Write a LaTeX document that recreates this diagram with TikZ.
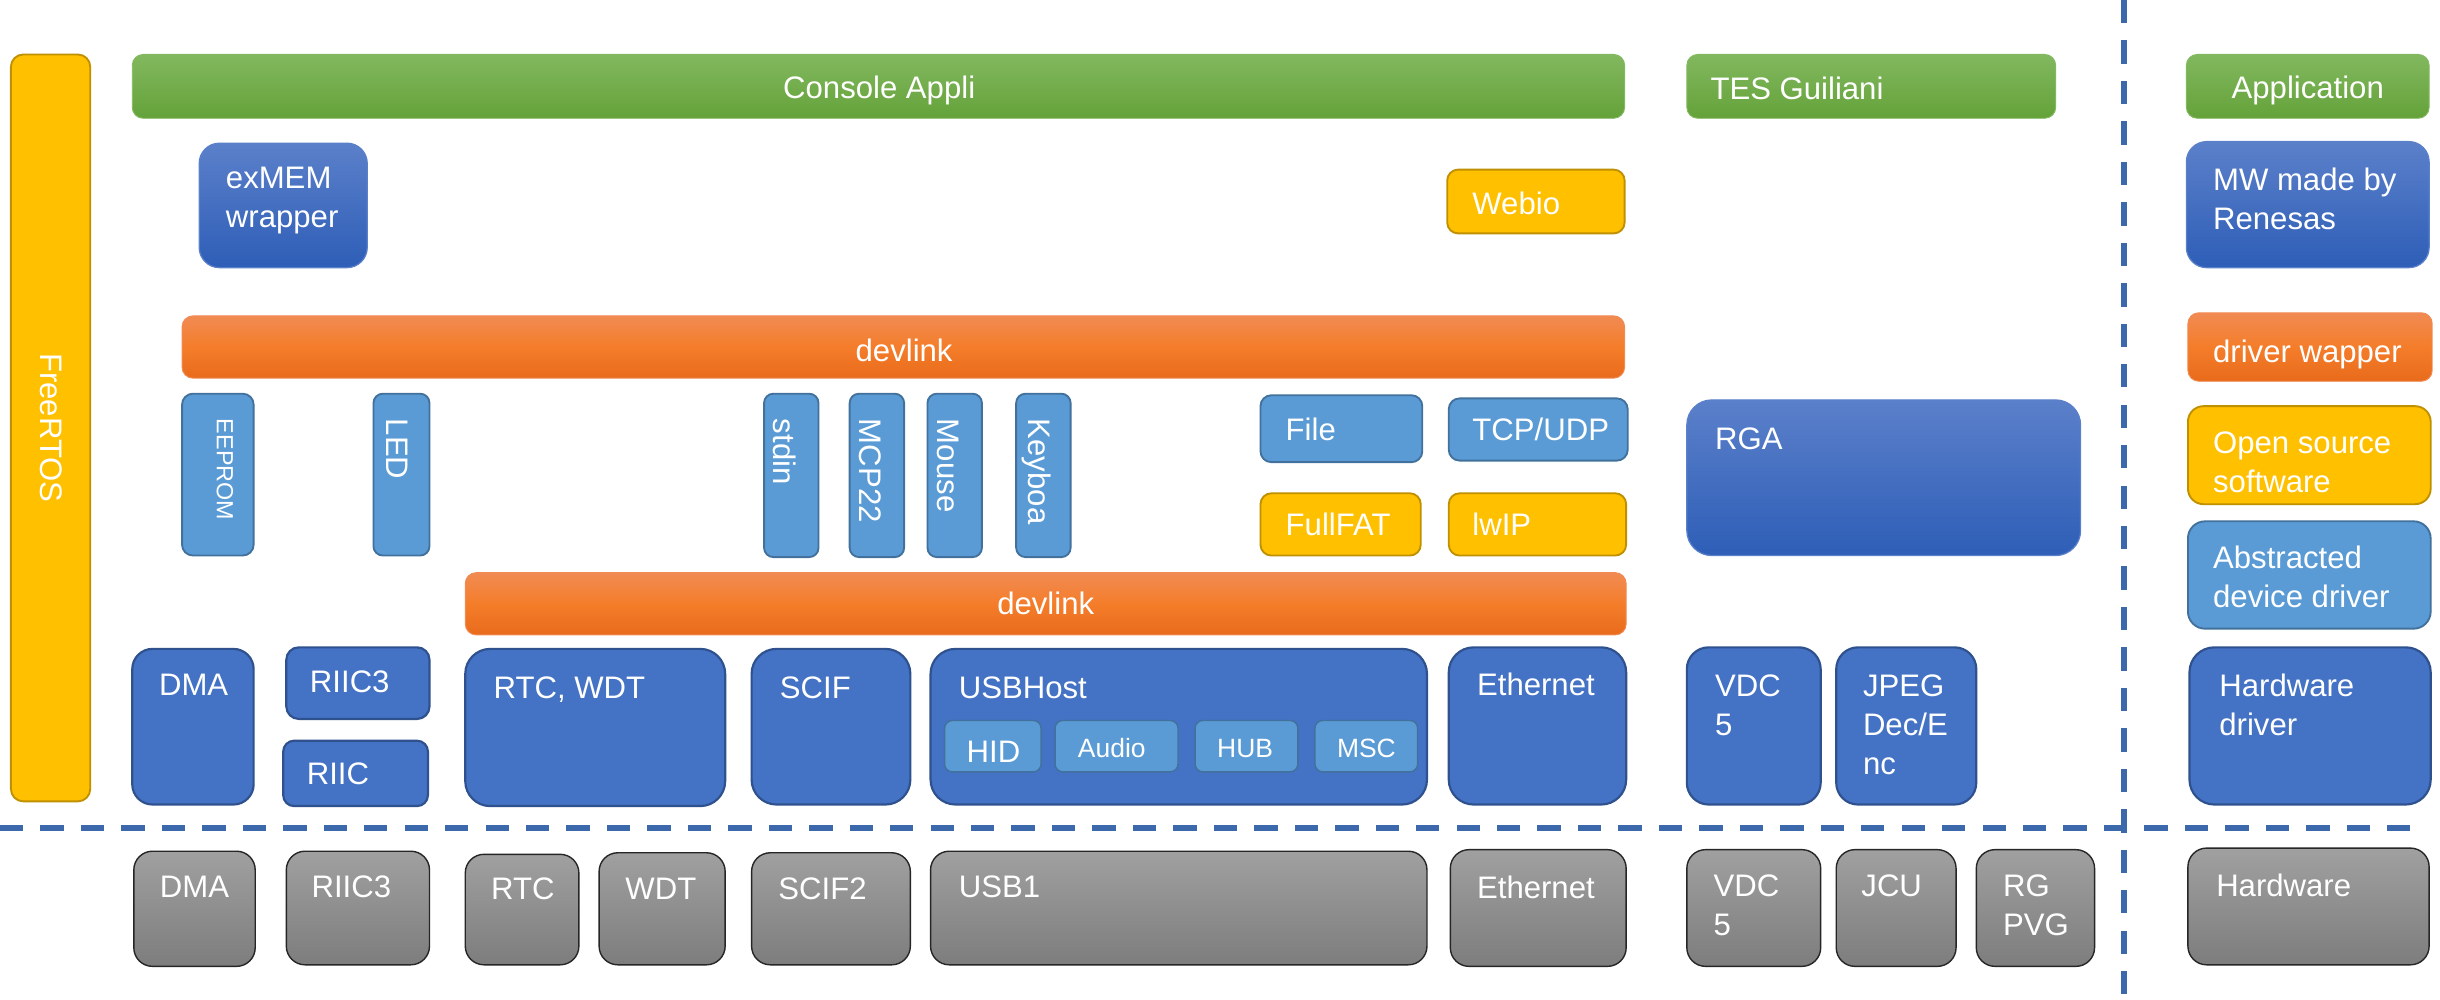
\documentclass[tikz,border=0pt]{standalone}
\usepackage{fontspec}
\setmainfont{Liberation Sans}
\usetikzlibrary{positioning}

\definecolor{grntop}{HTML}{82B85F}
\definecolor{grnbot}{HTML}{64A239}
\definecolor{orgtop}{HTML}{F18B53}
\definecolor{orgmid}{HTML}{F47D2A}
\definecolor{orgbot}{HTML}{E86B1B}
\definecolor{mwtop}{HTML}{5B80CA}
\definecolor{mwbot}{HTML}{2E5EB7}
\definecolor{drvblue}{HTML}{4472C4}
\definecolor{drvline}{HTML}{2F528F}
\definecolor{absblue}{HTML}{5B9BD5}
\definecolor{absline}{HTML}{41719C}
\definecolor{ossyel}{HTML}{FFC000}
\definecolor{ossline}{HTML}{BF9000}
\definecolor{hwtop}{HTML}{A0A0A0}
\definecolor{hwbot}{HTML}{7D7D7D}
\definecolor{sepblue}{HTML}{3C68AC}

\tikzset{
  blk/.style={rectangle, inner sep=0pt, outer sep=0pt, anchor=north west, line width=#1},
  blk/.default=1.2pt,
  wh/.style 2 args={minimum width=#1pt, minimum height=#2pt},
  app/.style={blk=0.6pt, draw=grntop, top color=grntop, bottom color=grnbot, rounded corners=7pt},
  wrap/.style={blk=0.6pt, draw=orgtop, top color=orgtop, bottom color=orgbot, middle color=orgmid, rounded corners=7pt},
  mw/.style={blk=0.8pt, draw=mwtop, top color=mwtop, bottom color=mwbot},
  oss/.style={blk=1.2pt, draw=ossline, fill=ossyel},
  abs/.style={blk=1.2pt, draw=absline, fill=absblue},
  hwdrv/.style={blk=1.4pt, draw=drvline, fill=drvblue},
  hw/.style={blk=0.9pt, draw=black!85, top color=hwtop, bottom color=hwbot},
  lbl/.style={text=white, inner sep=0pt, anchor=west, align=left, font=\fontsize{20}{25}\selectfont},
  vlbl/.style={lbl, rotate=-90},
  divider/.style={sepblue, line width=3.5pt, dash pattern=on 15pt off 11pt},
}

\begin{document}
\begin{tikzpicture}[x=1pt, y=-1pt]
  \useasboundingbox (0,0) rectangle (1568,642);
  \fill[white] (0,0) rectangle (1568,642);

  % software side
  \node[oss, wh={51}{480}, rounded corners=8pt] (rtos) at (7,35) {};
  \node[vlbl, anchor=center] (rtos-t) at (33,275) {FreeRTOS};
  \node[app, wh={959}{41}] (console) at (85,35) {};
  \node[lbl, anchor=center] (console-t) at (565,58) {Console Appli};
  \node[app, wh={237}{41}] (tes) at (1084,35) {};
  \node[lbl] (tes-t) at (1099,56.5) {TES Guiliani};
  \node[mw, wh={108}{80}, rounded corners=13pt] (exmem) at (128,92) {};
  \node[lbl] (exmem-t) at (145,129) {exMEM\\wrapper};
  \node[oss, wh={114}{41}, rounded corners=7pt] (webio) at (930,109) {};
  \node[lbl] (webio-t) at (946,131) {Webio};
  \node[wrap, wh={927}{40}] (devlinkA) at (117,203) {};
  \node[lbl, anchor=center] (devlinkA-t) at (581,225) {devlink};

  \node[abs, wh={46}{104}, rounded corners=7pt] (eeprom) at (117,253) {};
  \node[vlbl, font=\fontsize{15}{18}\selectfont] (eeprom-t) at (144.5,269) {EEPROM};
  \node[abs, wh={36}{104}, rounded corners=6pt] (led) at (240,253) {};
  \node[vlbl] (led-t) at (255,269) {LED};
  \foreach \n/\x/\txt in {stdin/491/stdin, mcp/546/MCP22, mouse/596/Mouse, keyb/653/Keyboa}{
    \node[abs, wh={35}{105}, rounded corners=6pt] (\n) at (\x,253) {};
    \node[vlbl] (\n-t) at (\x+13,269) {\txt};
  }
  \node[abs, wh={104}{43}, rounded corners=7pt] (file) at (810,254) {};
  \node[lbl] (file-t) at (826,276) {File};
  \node[abs, wh={115}{40}, rounded corners=7pt] (tcp) at (931,256) {};
  \node[lbl] (tcp-t) at (946,276) {TCP/UDP};
  \node[oss, wh={103}{40}, rounded corners=7pt] (fullfat) at (810,317) {};
  \node[lbl] (fullfat-t) at (826,337) {FullFAT};
  \node[oss, wh={114}{40}, rounded corners=7pt] (lwip) at (931,317) {};
  \node[lbl] (lwip-t) at (946,337) {lwIP};
  \node[mw, wh={253}{100}, rounded corners=16pt] (rga) at (1084,257) {};
  \node[lbl] (rga-t) at (1102,282) {RGA};
  \node[wrap, wh={746}{40}] (devlinkB) at (299,368) {};
  \node[lbl, anchor=center] (devlinkB-t) at (672,388) {devlink};

  % drivers
  \node[hwdrv, wh={78}{100}, rounded corners=13pt] (dma) at (85,417) {};
  \node[lbl] (dma-t) at (102,440) {DMA};
  \node[hwdrv, wh={92}{46}, rounded corners=8pt] (riicc) at (184,416) {};
  \node[lbl] (riicc-t) at (199,438) {RIIC3};
  \node[hwdrv, wh={93}{42}, rounded corners=7pt] (riic) at (182,476) {};
  \node[lbl] (riic-t) at (197,497.5) {RIIC};
  \node[hwdrv, wh={167}{101}, rounded corners=16pt] (rtcwdt) at (299,417) {};
  \node[lbl] (rtcwdt-t) at (317,443) {RTC, WDT};
  \node[hwdrv, wh={102}{100}, rounded corners=16pt] (scif) at (483,417) {};
  \node[lbl] (scif-t) at (501,442) {SCIF};
  \node[hwdrv, wh={319}{100}, rounded corners=16pt] (usbhost) at (598,417) {};
  \node[lbl] (usbhost-t) at (616,442) {USBHost};
  \node[abs, wh={62}{33}, rounded corners=5pt, line width=0.9pt] (hid) at (607,463) {};
  \node[lbl] (hid-t) at (621,483) {HID};
  \node[abs, wh={79}{33}, rounded corners=5pt, line width=0.9pt] (audio) at (678,463) {};
  \node[lbl, font=\fontsize{17}{20}\selectfont] (audio-t) at (692.5,481) {Audio};
  \node[abs, wh={66}{33}, rounded corners=5pt, line width=0.9pt] (hub) at (768,463) {};
  \node[lbl, font=\fontsize{17}{20}\selectfont] (hub-t) at (782,481) {HUB};
  \node[abs, wh={66}{33}, rounded corners=5pt, line width=0.9pt] (msc) at (845,463) {};
  \node[lbl, font=\fontsize{17}{20}\selectfont] (msc-t) at (859,481) {MSC};
  \node[hwdrv, wh={114}{101}, rounded corners=16pt] (eth) at (931,416) {};
  \node[lbl] (eth-t) at (949,440) {Ethernet};
  \node[hwdrv, wh={86}{101}, rounded corners=14pt] (vdc) at (1084,416) {};
  \node[lbl] (vdc-t) at (1102,453) {VDC\\5};
  \node[hwdrv, wh={90}{101}, rounded corners=14pt] (jpeg) at (1180,416) {};
  \node[lbl] (jpeg-t) at (1197,465.5) {JPEG\\Dec/E\\nc};

  % hardware
  \node[hw, wh={78}{74}, rounded corners=12pt] (gdma) at (86,547) {};
  \node[lbl] (gdma-t) at (102.6,570) {DMA};
  \node[hw, wh={92}{73}, rounded corners=12pt] (griicc) at (184,547) {};
  \node[lbl] (griicc-t) at (200,570) {RIIC3};
  \node[hw, wh={73}{71}, rounded corners=12pt] (grtc) at (299,549) {};
  \node[lbl] (grtc-t) at (315.4,571) {RTC};
  \node[hw, wh={81}{72}, rounded corners=12pt] (gwdt) at (385,548) {};
  \node[lbl] (gwdt-t) at (401.7,571) {WDT};
  \node[hw, wh={102}{72}, rounded corners=12pt] (gscif) at (483,548) {};
  \node[lbl] (gscif-t) at (500,571) {SCIF2};
  \node[hw, wh={319}{73}, rounded corners=12pt] (gusb) at (598,547) {};
  \node[lbl] (gusb-t) at (616,570) {USB1};
  \node[hw, wh={113}{75}, rounded corners=12pt] (geth) at (932,546) {};
  \node[lbl] (geth-t) at (949,570) {Ethernet};
  \node[hw, wh={86}{75}, rounded corners=12pt] (gvdc) at (1084,546) {};
  \node[lbl] (gvdc-t) at (1101,582) {VDC\\5};
  \node[hw, wh={77}{75}, rounded corners=12pt] (gjcu) at (1180,546) {};
  \node[lbl] (gjcu-t) at (1196,569) {JCU};
  \node[hw, wh={76}{75}, rounded corners=12pt] (grg) at (1270,546) {};
  \node[lbl] (grg-t) at (1287,582) {RG\\PVG};

  % legend
  \node[app, wh={156}{41}] (appleg) at (1405,35) {};
  \node[lbl, anchor=center] (appleg-t) at (1483,58) {Application};
  \node[mw, wh={156}{81}, rounded corners=13pt] (mwleg) at (1405,91) {};
  \node[lbl] (mwleg-t) at (1422,128) {MW made by\\Renesas};
  \node[wrap, wh={157}{44}] (wrapleg) at (1406,201) {};
  \node[lbl] (wrapleg-t) at (1422,228) {driver wapper};
  \node[oss, wh={156}{63}, rounded corners=10pt] (ossleg) at (1406,261) {};
  \node[lbl] (ossleg-t) at (1422,297) {Open source\\software};
  \node[abs, wh={156}{69}, rounded corners=11pt] (absleg) at (1406,335) {};
  \node[lbl] (absleg-t) at (1422,370.5) {Abstracted\\device driver};
  \node[hwdrv, wh={155}{101}, rounded corners=16pt] (drvleg) at (1407,416) {};
  \node[lbl] (drvleg-t) at (1426,453) {Hardware\\driver};
  \node[hw, wh={155}{75}, rounded corners=12pt] (hwleg) at (1406,545) {};
  \node[lbl] (hwleg-t) at (1424,569) {Hardware};

  % dashed separators
  \coordinate (hsepL) at (0,532);
  \coordinate (hsepR) at (1557,532);
  \coordinate (vsepT) at (1365,0);
  \coordinate (vsepB) at (1365,642);
  \draw[divider] (hsepL) -- (hsepR);
  \draw[divider] (vsepT) -- (vsepB);
\end{tikzpicture}
\end{document}
